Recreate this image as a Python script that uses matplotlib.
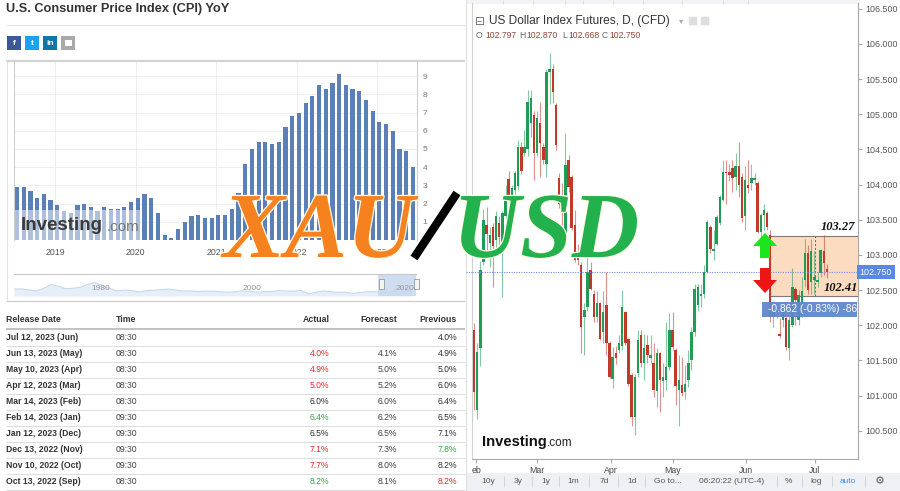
import matplotlib
matplotlib.use("Agg")
import matplotlib.pyplot as plt
import matplotlib.patches as mpatches
import matplotlib.patheffects as pe
from matplotlib.transforms import blended_transform_factory

plt.rcParams['font.family'] = ['Liberation Sans', 'DejaVu Sans']

W, H = 900, 491

# --- CPI YoY, monthly bars Jun 2018 .. May 2023
cpi_values = [2.9, 2.9, 2.7, 2.3, 2.5, 2.2, 1.9,
              1.6, 1.5, 1.9, 2.0, 1.8, 1.6, 1.8, 1.7, 1.7, 1.8, 2.1, 2.3,
              2.5, 2.3, 1.5, 0.3, 0.1, 0.6, 1.0, 1.3, 1.4, 1.2, 1.2, 1.4,
              1.4, 1.7, 2.6, 4.2, 5.0, 5.4, 5.4, 5.3, 5.4, 6.2, 6.8, 7.0,
              7.5, 7.9, 8.5, 8.3, 8.6, 9.1, 8.5, 8.3, 8.2, 7.7, 7.1, 6.5,
              6.4, 6.0, 5.0, 4.9, 4.0]
cpi_year_labels = ["2019", "2020", "2021", "2022", "2023"]
cpi_year_pos = [5.7, 17.7, 29.7, 41.7, 53.7]

# navigator (yearly CPI history)
nav_years = list(range(1969, 2024))
nav_cpi = [5.5, 5.7, 4.4, 3.2, 6.2, 11.0, 9.1, 5.8, 6.5, 7.6, 11.3, 13.5, 10.3,
           6.2, 3.2, 4.3, 3.6, 1.9, 3.6, 4.1, 4.8, 5.4, 4.2, 3.0, 3.0, 2.6,
           2.8, 3.0, 2.3, 1.6, 2.2, 3.4, 2.8, 1.6, 2.3, 2.7, 3.4, 3.2, 2.8,
           3.8, -0.4, 1.6, 3.2, 2.1, 1.5, 1.6, 0.1, 1.3, 2.1, 2.4, 1.8, 1.2,
           4.7, 8.0, 4.1]
nav_labels = ["1980", "2000", "2020"]

# --- release table
tbl_dates = ["Jul 12, 2023 (Jun)", "Jun 13, 2023 (May)", "May 10, 2023 (Apr)",
             "Apr 12, 2023 (Mar)", "Mar 14, 2023 (Feb)", "Feb 14, 2023 (Jan)",
             "Jan 12, 2023 (Dec)", "Dec 13, 2022 (Nov)", "Nov 10, 2022 (Oct)",
             "Oct 13, 2022 (Sep)"]
tbl_times = ["08:30", "08:30", "08:30", "08:30", "08:30",
             "09:30", "09:30", "09:30", "09:30", "08:30"]
tbl_actual = ["", "4.0%", "4.9%", "5.0%", "6.0%", "6.4%", "6.5%", "7.1%", "7.7%", "8.2%"]
tbl_actual_tone = ["", "r", "r", "r", "k", "g", "k", "r", "r", "g"]
tbl_forecast = ["", "4.1%", "5.0%", "5.2%", "6.0%", "6.2%", "6.5%", "7.3%", "8.0%", "8.1%"]
tbl_previous = ["4.0%", "4.9%", "5.0%", "6.0%", "6.4%", "6.5%", "7.1%", "7.8%", "8.2%", "8.2%"]
tbl_previous_tone = ["k", "k", "k", "k", "k", "k", "k", "g", "k", "r"]

# --- US Dollar Index futures, daily candles (Jan 31 .. Jul 2023)
dxy_open = [101.93, 100.80, 101.68, 102.90, 103.42, 103.17, 103.40, 103.21, 103.46, 103.12,
            103.55, 104.08, 103.85, 103.93, 103.98, 104.54, 104.45, 104.50, 104.87, 104.99,
            104.45, 104.87, 104.54, 104.30, 105.60, 105.65, 105.13, 104.09, 103.26, 103.31,
            104.35, 104.11, 103.42, 103.00, 102.86, 102.12, 102.26, 102.79, 102.45, 102.12,
            102.31, 101.91, 102.29, 101.74, 101.24, 101.60, 101.65, 101.70, 102.19, 101.81,
            101.29, 100.70, 101.32, 101.86, 101.46, 101.72, 101.53, 101.46, 101.06, 101.60,
            101.20, 101.22, 101.41, 101.93, 101.65, 101.08, 101.15, 101.05, 101.22, 101.51,
            101.91, 102.29, 102.41, 102.45, 102.76, 103.40, 103.05, 103.16, 103.45, 103.78,
            104.18, 104.18, 104.23, 104.11, 104.26, 104.11, 103.55, 103.99, 104.02, 104.07,
            104.02, 103.33, 103.57, 103.59, 103.28, 102.12, 102.19, 101.88, 102.07, 102.10,
            101.67, 102.00, 102.52, 102.07, 102.14, 102.64, 103.02, 102.62, 102.65, 102.62,
            102.74, 103.05, 102.797]
dxy_high = [102.03, 101.75, 102.92, 103.66, 103.68, 103.40, 103.45, 103.62, 103.55, 103.63,
            104.00, 104.20, 104.00, 104.20, 104.63, 104.60, 104.78, 105.35, 105.35, 105.04,
            105.05, 105.18, 104.59, 105.65, 105.87, 105.72, 105.16, 104.16, 104.02, 104.73,
            104.42, 104.13, 103.64, 103.15, 102.90, 102.31, 102.97, 102.90, 102.50, 102.48,
            102.33, 102.48, 102.76, 101.77, 101.69, 101.70, 101.86, 102.50, 102.20, 101.82,
            101.32, 101.30, 101.93, 101.93, 101.88, 101.86, 101.86, 101.74, 101.67, 101.62,
            101.46, 102.05, 102.17, 102.19, 101.67, 101.58, 101.55, 101.43, 101.65, 101.97,
            102.59, 102.59, 102.59, 102.86, 103.50, 103.43, 103.35, 103.57, 103.85, 104.35,
            104.35, 104.30, 104.35, 104.45, 104.61, 104.16, 104.26, 104.35, 104.30, 104.16,
            104.05, 103.59, 103.73, 103.62, 103.35, 102.26, 102.33, 102.10, 102.29, 102.12,
            102.31, 102.81, 102.55, 102.50, 102.69, 103.23, 103.14, 103.23, 103.05, 102.75,
            103.09, 103.28, 102.870]
dxy_low = [100.79, 100.66, 101.42, 102.86, 103.02, 102.83, 102.55, 102.98, 103.02, 102.40,
           103.45, 103.69, 103.75, 103.83, 103.92, 104.15, 104.40, 104.40, 104.68, 104.07,
           104.40, 104.11, 104.30, 104.11, 105.15, 105.16, 104.49, 103.67, 103.23, 103.26,
           103.90, 103.35, 102.90, 102.85, 101.60, 101.58, 102.20, 102.50, 102.05, 102.05,
           101.79, 101.74, 101.58, 101.25, 101.10, 101.45, 101.60, 101.65, 101.72, 101.13,
           100.56, 100.44, 101.27, 101.41, 101.22, 101.46, 101.46, 100.98, 100.84, 100.77,
           100.98, 101.08, 101.36, 101.65, 100.87, 100.56, 100.99, 100.95, 101.12, 101.36,
           101.84, 102.20, 102.26, 102.38, 102.74, 103.02, 102.93, 103.14, 103.43, 103.76,
           103.73, 104.05, 103.90, 103.92, 103.83, 103.47, 103.36, 103.88, 103.92, 104.00,
           103.31, 103.26, 103.35, 103.35, 102.05, 101.98, 102.10, 101.82, 101.98, 101.65,
           101.50, 101.97, 102.00, 102.00, 102.12, 102.55, 102.45, 102.45, 102.45, 102.55,
           102.69, 102.71, 102.668]
dxy_close = [101.05, 101.62, 102.79, 103.50, 103.30, 103.28, 103.12, 103.56, 103.26, 103.59,
             103.85, 103.83, 103.95, 104.16, 104.54, 104.20, 104.54, 105.18, 105.23, 104.45,
             104.95, 104.59, 104.35, 105.60, 105.65, 105.32, 104.56, 103.73, 103.24, 104.28,
             103.97, 103.38, 102.93, 102.93, 101.98, 102.22, 102.76, 102.52, 102.12, 102.31,
             101.81, 102.19, 101.74, 101.27, 101.55, 101.53, 101.75, 102.26, 101.74, 101.17,
             100.70, 101.27, 101.79, 101.46, 101.67, 101.58, 101.58, 101.08, 101.60, 101.22,
             101.27, 101.41, 101.93, 101.69, 101.13, 101.22, 101.03, 101.17, 101.46, 101.91,
             102.52, 102.55, 102.44, 102.76, 103.47, 103.09, 103.09, 103.54, 103.83, 104.18,
             104.16, 104.13, 104.09, 104.26, 104.00, 103.52, 104.07, 103.95, 104.09, 104.09,
             103.33, 103.57, 103.64, 103.40, 102.12, 102.19, 102.26, 101.84, 102.22, 101.69,
             102.07, 102.55, 102.36, 102.43, 102.48, 103.02, 102.50, 103.05, 102.69, 102.65,
             103.07, 102.88, 102.750]
last_price = 102.750
box_top, box_bottom = 103.27, 102.41
month_labels = ["eb", "Mar", "Apr", "May", "Jun", "Jul"]
price_ticks = [100.5, 101.0, 101.5, 102.0, 102.5, 103.0, 103.5, 104.0, 104.5, 105.0, 105.5, 106.0, 106.5]

RED, GREEN = '#e8292b', '#35a845'


def px_axes(x0, y0, x1, y1, **kw):
    return fig.add_axes([x0 / W, 1 - y1 / H, (x1 - x0) / W, (y1 - y0) / H], **kw)


fig = plt.figure(figsize=(W / 100, H / 100), dpi=100)
fig.patch.set_facecolor('white')

# background canvas in pixel coordinates
bg = fig.add_axes([0, 0, 1, 1])
bg.set_xlim(0, W)
bg.set_ylim(H, 0)
bg.axis('off')

# ---------------- left panel ----------------
bg.text(6, 9, "U.S. Consumer Price Index (CPI) YoY", fontsize=9.2, fontweight='bold',
        color='#333333', va='center', ha='left')
bg.hlines(25, 6, 465, color='#e2e2e2', lw=0.8)
icons = [(7, '#3b5998', 'f'), (25, '#1da1f2', 't'), (43, '#0e76a8', 'in'), (61, '#a9a9a9', '')]
for x0, col, lab in icons:
    bg.add_patch(mpatches.Rectangle((x0, 36), 14, 14, fc=col, ec='none'))
    if lab:
        bg.text(x0 + 7, 43.5, lab, color='white', fontsize=6, fontweight='bold', ha='center', va='center')
    else:
        bg.add_patch(mpatches.Rectangle((x0 + 3.5, 40), 7, 6, fc='white', ec='none'))
bg.hlines(61, 6, 465, color='#d4d4d4', lw=1.6)
bg.vlines(7, 61, 300, color='#e4e4e4', lw=0.8)

cax = px_axes(14, 62, 417, 240)
cax.patch.set_alpha(0)
cax.bar(range(len(cpi_values)), cpi_values, width=0.62, color='#5b80b8', zorder=2)
cax.set_xlim(-0.45, len(cpi_values) - 1 + 0.6)
cax.set_ylim(0, 9.78)
cax.yaxis.tick_right()
cax.set_yticks(range(10))
cax.set_yticklabels([str(v) for v in range(10)])
cax.set_xticks(cpi_year_pos)
cax.set_xticklabels(cpi_year_labels)
cax.tick_params(axis='y', length=0, pad=4, labelsize=6, labelcolor='#777777')
cax.tick_params(axis='x', length=0, pad=6, labelsize=6.3, labelcolor='#555555')
cax.grid(True, color='#ececec', lw=0.6, zorder=0)
for side in ['top', 'bottom']:
    cax.spines[side].set_visible(False)
cax.spines['left'].set_color('#cfcfcf')
cax.spines['right'].set_color('#cfcfcf')

# navigator
nax = px_axes(14, 274, 416, 296)
nax.patch.set_alpha(0)
nax.fill_between(nav_years, nav_cpi, -3, color='#e6eef8', lw=0)
nax.plot(nav_years, nav_cpi, color='#c7d6ea', lw=0.8)
nax.axvspan(2018.4, 2023.6, color='#c3d5ee', alpha=0.8, lw=0)
nax.set_xlim(1969, 2023.6)
nax.set_ylim(-3, 24)
nax.set_xticks([])
nax.set_yticks([])
for side in ['left', 'right', 'bottom']:
    nax.spines[side].set_visible(False)
nax.spines['top'].set_color('#c8c8c8')

# table
bg.hlines(301, 6, 465, color='#cccccc', lw=0.9)
hy = 320
bg.text(6, hy, "Release Date", fontsize=6.3, fontweight='bold', color='#333333', va='center')
bg.text(116, hy, "Time", fontsize=6.3, fontweight='bold', color='#333333', va='center')
bg.text(330, hy, "Actual", fontsize=6.3, fontweight='bold', color='#333333', va='center', ha='right')
bg.text(397, hy, "Forecast", fontsize=6.3, fontweight='bold', color='#333333', va='center', ha='right')
bg.text(457, hy, "Previous", fontsize=6.3, fontweight='bold', color='#333333', va='center', ha='right')
bg.hlines(329, 6, 465, color='#bdbdbd', lw=1.3)
tone = {'r': RED, 'g': GREEN, 'k': '#333333', '': '#333333'}
for k in range(len(tbl_dates)):
    y = 337.5 + 16 * k
    bg.text(6, y, tbl_dates[k], fontsize=6.2, fontweight='bold', color='#333333', va='center')
    bg.text(116, y, tbl_times[k], fontsize=6.2, color='#444444', va='center')
    bg.text(329, y, tbl_actual[k], fontsize=6.2, color=tone[tbl_actual_tone[k]], va='center', ha='right')
    bg.text(397, y, tbl_forecast[k], fontsize=6.2, color='#444444', va='center', ha='right')
    bg.text(457, y, tbl_previous[k], fontsize=6.2, color=tone[tbl_previous_tone[k]], va='center', ha='right')
    bg.hlines(y + 8, 6, 465, color='#dddddd', lw=0.7)

# ---------------- right panel ----------------
bg.vlines(466, 0, 491, color='#e0e0e0', lw=0.8)
bg.add_patch(mpatches.Rectangle((466, 0), 394, 4, fc='#f2f3f5', ec='none'))
for xx in [503, 533, 565, 583, 613, 643, 682, 723, 748]:
    bg.vlines(xx, 0, 4, color='#dcdcdc', lw=0.6)

# header texts
bg.add_patch(mpatches.Rectangle((475.5, 17), 7, 7, fc='none', ec='#777777', lw=0.7))
bg.hlines(20.5, 477, 481, color='#777777', lw=0.7)
bg.text(489, 21, "US Dollar Index Futures, D, (CFD)", fontsize=8.6, color='#333333', va='center')
bg.text(681, 21, "\u25be", fontsize=6, color='#aaaaaa', va='center', ha='center', family='DejaVu Sans')
bg.add_patch(mpatches.FancyBboxPatch((689, 17), 8, 8, boxstyle='round,pad=0.3', fc='#dedede', ec='none'))
bg.add_patch(mpatches.FancyBboxPatch((701, 17), 8, 8, boxstyle='round,pad=0.3', fc='#dedede', ec='none'))
ohlc_parts = [(476, "O", "#666666"), (485, "102.797", "#8c4436"), (519, "H", "#666666"),
              (526, "102.870", "#8c4436"), (562, "L", "#666666"), (568, "102.668", "#8c4436"),
              (602, "C", "#666666"), (609, "102.750", "#8c4436")]
for xx, t, col in ohlc_parts:
    bg.text(xx, 35, t, fontsize=6.2, color=col, va='center')

# investing logo on the price chart
bg.text(482, 442, "Investing", fontsize=10.6, fontweight='bold', color='#111111', va='center')
bg.text(547, 443, ".com", fontsize=8.5, color='#222222', va='center')

n = len(dxy_open)
s = (827 - 474) / (n - 1)
rax = px_axes(472, 3, 858, 459)
rax.patch.set_alpha(0)
rax.set_xlim(-(474 - 472) / s, (n - 1) + (858 - 827) / s)
rax.set_ylim(100.097, 106.583)

rax.add_patch(mpatches.Rectangle((93.55, box_bottom), 40, box_top - box_bottom,
                                 fc='#fcdcc0', ec='#7a7a7a', lw=0.8, zorder=1))
rax.vlines((815 - 474) / s, box_bottom, box_top, colors='#666666', lw=0.7,
           linestyles=(0, (2, 2)), zorder=1.5)

up_c, dn_c = '#1f9d57', '#c0392b'
for i in range(n):
    o, hi, lo, c = dxy_open[i], dxy_high[i], dxy_low[i], dxy_close[i]
    col = up_c if c >= o else dn_c
    rax.vlines(i, lo, hi, color=col, lw=0.8, alpha=0.55, zorder=2)
    rax.bar(i, max(abs(c - o), 0.016), bottom=min(o, c), width=0.78, color=col,
            edgecolor='none', zorder=3)

rax.axhline(last_price, color='#6f8fe3', lw=0.8, ls=(0, (1, 1.2)), zorder=4)
bg.hlines(272, 466, 472, color='#6f8fe3', lw=0.8, linestyles=(0, (1, 1.2)))

rax.yaxis.tick_right()
rax.set_yticks(price_ticks)
rax.set_yticklabels(["%.3f" % v for v in price_ticks])
rax.tick_params(axis='y', length=3, color='#aaaaaa', pad=2, labelsize=6.4, labelcolor='#555555')
month_px = [476, 537, 611, 673, 746, 815]
rax.set_xticks([(p - 474) / s for p in month_px])
rax.set_xticklabels(month_labels)
rax.tick_params(axis='x', length=3, color='#aaaaaa', pad=2, labelsize=6.3, labelcolor='#444444')
rax.spines['top'].set_visible(False)
rax.spines['left'].set_color('#d0d0d0')
rax.spines['right'].set_color('#a8a8a8')
rax.spines['bottom'].set_color('#a8a8a8')

btr = blended_transform_factory(rax.transAxes, rax.transData)
rax.text(1.004, last_price, "102.750", transform=btr, fontsize=6.4, color='white',
         ha='left', va='center', clip_on=False, zorder=6,
         bbox=dict(boxstyle='square,pad=0.28', fc='#5a88e6', ec='none'))
rax.text((838 - 474) / s, box_top + 0.04, "%.2f" % box_top, fontsize=9, fontweight='bold',
         fontstyle='italic', family='Liberation Serif', color='#111111', ha='center', va='bottom', zorder=6)
rax.text((841 - 474) / s, box_bottom + 0.04, "%.2f" % box_bottom, fontsize=9, fontweight='bold',
         fontstyle='italic', family='Liberation Serif', color='#111111', ha='center', va='bottom', zorder=6)

# toolbar
bg.add_patch(mpatches.Rectangle((466, 473), 434, 18, fc='#eef0f3', ec='none'))
tools = [(488, "10y"), (518, "3y"), (546, "1y"), (573, "1m"), (604, "7d"), (632, "1d"),
         (668, "Go to..."), (732, "06:20:22 (UTC-4)"), (788, "%"), (816, "log")]
for xx, t in tools:
    bg.text(xx, 481.5, t, fontsize=6, color='#555555', va='center', ha='center')
bg.text(848, 481.5, "auto", fontsize=6, color='#3d8fe6', va='center', ha='center')
bg.text(880, 481.5, "\u2699", fontsize=8, color='#666666', va='center', ha='center', family='DejaVu Sans')
for xx in [504, 532, 559, 589, 618, 645, 777, 802, 832, 865]:
    bg.vlines(xx, 476, 487, color='#d2d4d8', lw=0.7)

# ---------------- overlay ----------------
ov = fig.add_axes([0, 0, 1, 1], zorder=5)
ov.set_xlim(0, W)
ov.set_ylim(H, 0)
ov.axis('off')
ov.patch.set_alpha(0)

for xx, lab in zip([101, 252, 405], nav_labels):
    ov.text(xx, 289, lab, fontsize=6, color='#9a9a9a', ha='center', va='center')

# watermark on the CPI chart
ov.add_patch(mpatches.Rectangle((15, 210), 125, 29.5, fc='white', ec='none', alpha=0.5))
ov.text(21, 226, "Investing", fontsize=13.5, fontweight='bold', color='#3a3a3a', va='center')
ov.text(107, 227, ".com", fontsize=11, color='#777777', va='center')

# navigator handles
for xx in [381, 416]:
    ov.add_patch(mpatches.Rectangle((xx - 2.5, 279), 5, 10, fc='#f4f4f4', ec='#999999', lw=0.6))

# arrows
ov.add_patch(mpatches.Polygon([(765, 233), (777, 246), (770, 246), (770, 258), (760, 258),
                               (760, 246), (753, 246)], closed=True, fc='#1be61b', ec='none'))
ov.add_patch(mpatches.Polygon([(765, 293), (777, 280), (770, 280), (770, 268), (760, 268),
                               (760, 280), (753, 280)], closed=True, fc='#ee1515', ec='none'))

# change label
ov.add_patch(mpatches.Rectangle((762, 302), 95, 15, fc='#6088cd', ec='none', alpha=0.95))
ov.text(768, 309.5, "-0.862 (-0.83%) -86", fontsize=7.4, color='white', va='center')

# big title
outline = [pe.withStroke(linewidth=1.8, foreground='#fffbe6')]
ov.text(223, 257, "XAU", fontsize=67, fontweight='bold', fontstyle='italic', family='Liberation Serif',
        color='#f5821f', va='baseline', ha='left', path_effects=outline)
ov.plot([414, 457], [258, 193], color='black', lw=6, solid_capstyle='butt',
        path_effects=[pe.Stroke(linewidth=8, foreground='white'), pe.Normal()])
ov.text(453, 257, "USD", fontsize=67, fontweight='bold', fontstyle='italic', family='Liberation Serif',
        color='#22b14c', va='baseline', ha='left', path_effects=outline)

fig.savefig("out.png", dpi=100, facecolor='white')
